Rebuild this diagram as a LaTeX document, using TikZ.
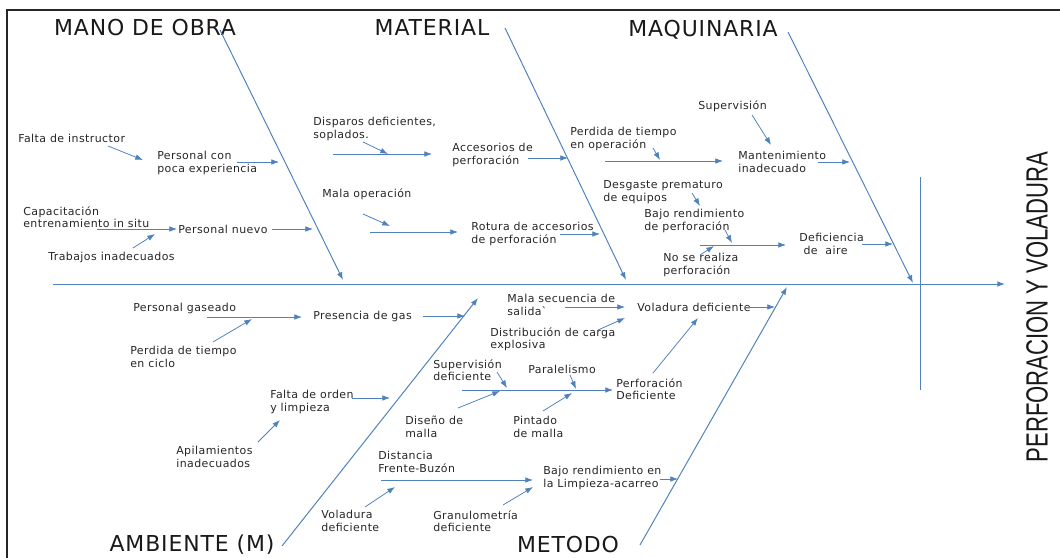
\documentclass[tikz,border=0pt]{standalone}
\usepackage{fontspec}
\setmainfont{DejaVu Sans}
\newfontfamily\lblfont[LetterSpace=4]{DejaVu Sans}
\newfontfamily\titlefont{Liberation Sans}
\usetikzlibrary{arrows.meta,positioning}
\definecolor{boneblue}{RGB}{79,129,189}

\begin{document}
\begin{tikzpicture}[x=0.025cm,y=-0.025cm,
					every node/.style={inner sep=0pt},
					lbl/.style={anchor=west, align=left, font=\lblfont\fontsize{7.8}{8.8}\selectfont, text=black!85},
					cat/.style={font=\lblfont\fontsize{15.6}{16}\selectfont, text=black!90},
					bone/.style={draw=boneblue, line width=0.7pt, ->},
					twig/.style={draw=boneblue, line width=0.55pt, ->},
					>={Latex[length=5.5pt,width=4pt]}]
					\useasboundingbox (0,0) rectangle (1060,558);
					\draw[line width=1.4pt, black!85] (7,558) -- (7,10) -- (1060,10);

					\node[cat] (mob) at (145,28) {MANO DE OBRA};
					\node[cat] (mat) at (432,28) {MATERIAL};
					\node[cat] (maq) at (703,30) {MAQUINARIA};
					\node[cat] (amb) at (192,545) {AMBIENTE (M)};
					\node[cat] (met) at (568,545) {METODO};
					\node[rotate=90, font=\titlefont\fontsize{21.8}{22}\selectfont, text=black!90] (eff) at (1037,307) {\scalebox{0.72}[1]{PERFORACION Y VOLADURA}};

					\coordinate (mobS) at (220,30);  \coordinate (mobE) at (343,280);
					\coordinate (matS) at (505,28);  \coordinate (matE) at (626,280);
					\coordinate (maqS) at (788,32);  \coordinate (maqE) at (913,283);
					\coordinate (ambS) at (282,546); \coordinate (ambE) at (478,298);
					\coordinate (metS) at (640,545); \coordinate (metE) at (787,287);
					\coordinate (spS) at (53,284);   \coordinate (spE) at (1005,284);
					\coordinate (vtS) at (920,177);  \coordinate (vtE) at (920,390);
					\draw[bone] (spS) -- (spE);
					\draw[boneblue, line width=0.7pt] (vtS) -- (vtE);
					\draw[bone] (mobS) -- (mobE);
					\draw[bone] (matS) -- (matE);
					\draw[bone] (maqS) -- (maqE);
					\draw[bone] (ambS) -- (ambE);
					\draw[bone] (metS) -- (metE);

					\node[lbl] (fi) at (18,138) {Falta de instructor};
					\node[lbl] (pce) at (157,163) {Personal con\\poca experiencia};
					\node[lbl] (cap) at (23,217) {Capacitación\\entrenamiento in situ};
					\node[lbl] (pn) at (178,229) {Personal nuevo};
					\node[lbl] (ti) at (48,257) {Trabajos inadecuados};
					\coordinate (fiA) at (108,146);  \coordinate (fiB) at (143,160);
					\coordinate (pceA) at (237,162); \coordinate (pceB) at (279,162);
					\coordinate (capA) at (97,229);  \coordinate (capB) at (177,229);
					\coordinate (pnA) at (272,229);  \coordinate (pnB) at (313,229);
					\coordinate (tiA) at (133,248);  \coordinate (tiB) at (155,234);
					\draw[twig] (fiA) -- (fiB);
					\draw[twig] (pceA) -- (pceB);
					\draw[twig] (capA) -- (capB);
					\draw[twig] (pnA) -- (pnB);
					\draw[twig] (tiA) -- (tiB);

					\node[lbl] (dd) at (313,129) {Disparos deficientes,\\soplados.};
					\node[lbl] (ap) at (452,155) {Accesorios de\\perforación};
					\node[lbl] (mo) at (322,194) {Mala operación};
					\node[lbl] (ra) at (471,234) {Rotura de accesorios\\de perforación};
					\coordinate (apA) at (333,154);  \coordinate (apB) at (432,154);
					\coordinate (ddA) at (363,142);  \coordinate (ddB) at (388,154);
					\coordinate (apC) at (528,158);  \coordinate (apD) at (568,158);
					\coordinate (moA) at (363,214);  \coordinate (moB) at (390,226);
					\coordinate (raA) at (370,232);  \coordinate (raB) at (458,232);
					\coordinate (raC) at (560,234);  \coordinate (raD) at (600,234);
					\draw[twig] (apA) -- (apB);
					\draw[twig] (ddA) -- (ddB);
					\draw[twig] (apC) -- (apD);
					\draw[twig] (moA) -- (moB);
					\draw[twig] (raA) -- (raB);
					\draw[twig] (raC) -- (raD);

					\node[lbl] (sup) at (698,106) {Supervisión};
					\node[lbl] (pto) at (570,139) {Perdida de tiempo\\en operación};
					\node[lbl] (mi) at (738,162) {Mantenimiento\\inadecuado};
					\node[lbl] (dp) at (603,192) {Desgaste prematuro\\de equipos};
					\node[lbl] (br) at (644,221) {Bajo rendimiento\\de perforación};
					\node[lbl] (nr) at (663,265) {No se realiza\\perforación};
					\node[lbl] (da) at (799,244) {Deficiencia\\\hspace{3pt}de~~aire};
					\coordinate (supA) at (752,115); \coordinate (supB) at (771,145);
					\coordinate (ptoA) at (653,148); \coordinate (ptoB) at (660,160);
					\coordinate (miA) at (605,161);  \coordinate (miB) at (723,161);
					\coordinate (miC) at (818,162);  \coordinate (miD) at (850,162);
					\coordinate (dpA) at (692,193);  \coordinate (dpB) at (700,206);
					\coordinate (brA) at (725,230);  \coordinate (brB) at (732,243);
					\coordinate (daA) at (700,245);  \coordinate (daB) at (786,245);
					\coordinate (nrA) at (700,255);  \coordinate (nrB) at (714,246);
					\coordinate (daC) at (862,244);  \coordinate (daD) at (893,244);
					\draw[twig] (supA) -- (supB);
					\draw[twig] (ptoA) -- (ptoB);
					\draw[twig] (miA) -- (miB);
					\draw[twig] (miC) -- (miD);
					\draw[twig] (dpA) -- (dpB);
					\draw[twig] (brA) -- (brB);
					\draw[twig] (daA) -- (daB);
					\draw[twig] (nrA) -- (nrB);
					\draw[twig] (daC) -- (daD);

					\node[lbl] (pg) at (133,308) {Personal gaseado};
					\node[lbl] (pdg) at (313,316) {Presencia de gas};
					\node[lbl] (ptc) at (130,357) {Perdida de tiempo\\en ciclo};
					\node[lbl] (fol) at (270,402) {Falta de orden\\y limpieza};
					\node[lbl] (ai) at (176,457) {Apilamientos\\inadecuados};
					\node[lbl] (vd) at (321,521) {Voladura\\deficiente};
					\node[lbl] (dfb) at (378,462) {Distancia\\Frente-Buzón};
					\node[lbl] (gd) at (433,521) {Granulometría\\deficiente};
					\node[lbl] (brl) at (543,478) {Bajo rendimiento en\\la Limpieza-acarreo};
					\coordinate (pdgA) at (207,317); \coordinate (pdgB) at (302,317);
					\coordinate (ptcA) at (213,342); \coordinate (ptcB) at (252,319);
					\coordinate (pdgC) at (423,316); \coordinate (pdgD) at (465,316);
					\coordinate (folA) at (352,398); \coordinate (folB) at (390,398);
					\coordinate (aiA) at (258,442);  \coordinate (aiB) at (280,420);
					\coordinate (brlA) at (381,480); \coordinate (brlB) at (533,480);
					\coordinate (vdA) at (365,507);  \coordinate (vdB) at (395,487);
					\coordinate (gdA) at (503,505);  \coordinate (gdB) at (533,487);
					\coordinate (brlC) at (660,479); \coordinate (brlD) at (678,479);
					\draw[twig] (pdgA) -- (pdgB);
					\draw[twig] (ptcA) -- (ptcB);
					\draw[twig] (pdgC) -- (pdgD);
					\draw[twig] (folA) -- (folB);
					\draw[twig] (aiA) -- (aiB);
					\draw[twig] (brlA) -- (brlB);
					\draw[twig] (vdA) -- (vdB);
					\draw[twig] (gdA) -- (gdB);
					\draw[twig] (brlC) -- (brlD);

					\node[lbl] (mss) at (507,305) {Mala secuencia de\\salida\textasciigrave};
					\node[lbl] (vdf) at (637,307) {Voladura deficiente};
					\node[lbl] (dc) at (490,339) {Distribución de carga\\explosiva};
					\node[lbl] (sd) at (433,370) {Supervisión\\deficiente};
					\node[lbl] (par) at (528,369) {Paralelismo};
					\node[lbl] (dm) at (405,427) {Diseño de\\malla};
					\node[lbl] (pm) at (513,427) {Pintado\\de malla};
					\node[lbl] (pd) at (616,389) {Perforación\\Deficiente};
					\coordinate (mssA) at (565,307); \coordinate (mssB) at (625,307);
					\coordinate (vdfA) at (745,307); \coordinate (vdfB) at (775,307);
					\coordinate (dcA) at (598,330);  \coordinate (dcB) at (625,318);
					\coordinate (sdA) at (497,372);  \coordinate (sdB) at (507,388);
					\coordinate (pdA) at (462,390);  \coordinate (pdB) at (613,390);
					\coordinate (parA) at (570,375); \coordinate (parB) at (576,389);
					\coordinate (dmA) at (458,408);  \coordinate (dmB) at (500,391);
					\coordinate (pmA) at (543,411);  \coordinate (pmB) at (572,393);
					\coordinate (pdC) at (653,373);  \coordinate (pdD) at (698,318);
					\draw[twig] (mssA) -- (mssB);
					\draw[twig] (vdfA) -- (vdfB);
					\draw[twig] (dcA) -- (dcB);
					\draw[twig] (sdA) -- (sdB);
					\draw[twig] (pdA) -- (pdB);
					\draw[twig] (parA) -- (parB);
					\draw[twig] (dmA) -- (dmB);
					\draw[twig] (pmA) -- (pmB);
					\draw[twig] (pdC) -- (pdD);
				\end{tikzpicture}
\end{document}
